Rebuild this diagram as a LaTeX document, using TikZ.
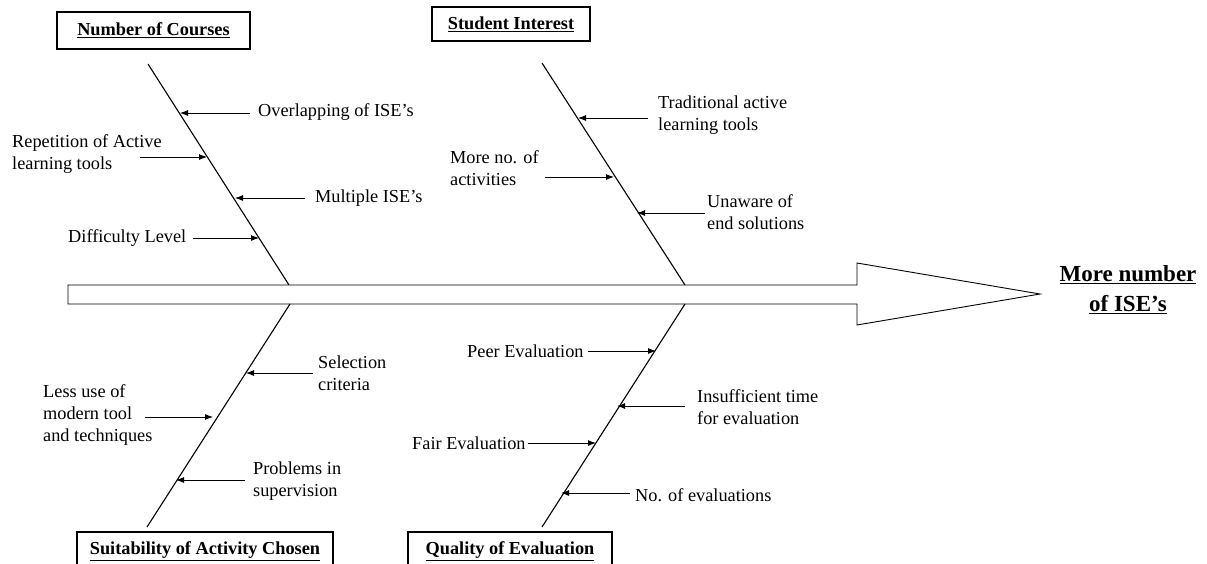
\documentclass[tikz,border=0pt]{standalone}
\usepackage{fontspec}
\setmainfont{Liberation Serif}
\usetikzlibrary{arrows.meta}
\tikzset{>={Latex[length=8pt,width=6pt]}}

\begin{document}
\begin{tikzpicture}[
    x = 1pt,
    y = -1pt,
    font = \fontsize{18.3}{22}\selectfont,
    cause/.style = {anchor = west, align = left, inner sep = 0pt},
    category/.style = {draw, line width = 1.3pt, inner sep = 0pt, font = \fontsize{18.3}{22}\selectfont\bfseries},
    bone/.style = {line width = 1.1pt},
    feed/.style = {->, line width = 0.9pt}
  ]
    \useasboundingbox (0, 0) rectangle (1207, 563);
    \clip (0, 0) rectangle (1207, 563);

    % spine and effect
    \draw[line width = 0.9pt] (68, 285) -- (857, 285) -- (857, 263) -- (1040, 294) -- (857, 325) -- (857, 304) -- (68, 304) -- cycle;
    \node[align = center, font = \fontsize{23}{30}\selectfont\bfseries] (effect) at (1128, 290) {\underline{More number}\\\underline{of ISE's}};

    % categories
    \node[category, minimum width = 193pt, minimum height = 37pt] (number_of_courses) at (153.5, 30.5) {\underline{Number of Courses}};
    \node[category, minimum width = 158pt, minimum height = 34pt] (student_interest) at (511, 24) {\underline{Student Interest}};
    \node[category, minimum width = 256pt, minimum height = 38pt] (suitability) at (205, 551) {\underline{Suitability of Activity Chosen}};
    \node[category, minimum width = 204pt, minimum height = 38pt] (quality) at (510, 551) {\underline{Quality of Evaluation}};

    % bones
    \coordinate (courses_top) at (148, 64);
    \coordinate (courses_end) at (289, 285);
    \coordinate (interest_top) at (542, 63);
    \coordinate (interest_end) at (685, 285);
    \coordinate (suitability_end) at (290, 304);
    \coordinate (suitability_bottom) at (147, 527);
    \coordinate (quality_end) at (685, 304);
    \coordinate (quality_bottom) at (542, 527);
    \draw[bone] (courses_top) -- (courses_end);
    \draw[bone] (interest_top) -- (interest_end);
    \draw[bone] (suitability_end) -- (suitability_bottom);
    \draw[bone] (quality_end) -- (quality_bottom);

    % number of courses
    \node[cause] (overlapping) at (258, 112) {Overlapping of ISE's};
    \node[cause] (repetition) at (12, 154) {Repetition of Active\\learning tools};
    \node[cause] (multiple) at (315, 198) {Multiple ISE's};
    \node[cause] (difficulty) at (68, 238) {Difficulty Level};
    \coordinate (overlapping_tail) at (250, 113);
    \coordinate (overlapping_tip) at (180, 113);
    \coordinate (repetition_tail) at (140, 157);
    \coordinate (repetition_tip) at (207, 157);
    \coordinate (multiple_tail) at (305, 198);
    \coordinate (multiple_tip) at (235, 198);
    \coordinate (difficulty_tail) at (193, 238);
    \coordinate (difficulty_tip) at (259, 238);
    \draw[feed] (overlapping_tail) -- (overlapping_tip);
    \draw[feed] (repetition_tail) -- (repetition_tip);
    \draw[feed] (multiple_tail) -- (multiple_tip);
    \draw[feed] (difficulty_tail) -- (difficulty_tip);

    % student interest
    \node[cause] (traditional) at (658, 115) {Traditional active\\learning tools};
    \node[cause] (more_activities) at (450, 168) {More no. of\\activities};
    \node[cause] (unaware) at (707, 212) {Unaware of\\end solutions};
    \coordinate (traditional_tail) at (648, 118);
    \coordinate (traditional_tip) at (578, 118);
    \coordinate (more_activities_tail) at (545, 177);
    \coordinate (more_activities_tip) at (614, 177);
    \coordinate (unaware_tail) at (705, 213);
    \coordinate (unaware_tip) at (637, 213);
    \draw[feed] (traditional_tail) -- (traditional_tip);
    \draw[feed] (more_activities_tail) -- (more_activities_tip);
    \draw[feed] (unaware_tail) -- (unaware_tip);

    % suitability of activity chosen
    \node[cause] (selection) at (318, 373) {Selection\\criteria};
    \node[cause] (less_use) at (43, 415) {Less use of\\modern tool\\and techniques};
    \node[cause] (problems) at (253, 481) {Problems in\\supervision};
    \coordinate (selection_tail) at (313, 373);
    \coordinate (selection_tip) at (246, 373);
    \coordinate (less_use_tail) at (145, 417);
    \coordinate (less_use_tip) at (213, 417);
    \coordinate (problems_tail) at (245, 480);
    \coordinate (problems_tip) at (176, 480);
    \draw[feed] (selection_tail) -- (selection_tip);
    \draw[feed] (less_use_tail) -- (less_use_tip);
    \draw[feed] (problems_tail) -- (problems_tip);

    % quality of evaluation
    \node[cause] (peer) at (467, 351) {Peer Evaluation};
    \node[cause] (insufficient) at (697, 407) {Insufficient time\\for evaluation};
    \node[cause] (fair) at (412, 443) {Fair Evaluation};
    \node[cause] (no_evaluations) at (635, 495) {No. of evaluations};
    \coordinate (peer_tail) at (588, 351);
    \coordinate (peer_tip) at (656, 351);
    \coordinate (insufficient_tail) at (685, 406);
    \coordinate (insufficient_tip) at (617, 406);
    \coordinate (fair_tail) at (528, 443);
    \coordinate (fair_tip) at (596, 443);
    \coordinate (no_evaluations_tail) at (630, 493);
    \coordinate (no_evaluations_tip) at (561, 493);
    \draw[feed] (peer_tail) -- (peer_tip);
    \draw[feed] (insufficient_tail) -- (insufficient_tip);
    \draw[feed] (fair_tail) -- (fair_tip);
    \draw[feed] (no_evaluations_tail) -- (no_evaluations_tip);
  \end{tikzpicture}
\end{document}
